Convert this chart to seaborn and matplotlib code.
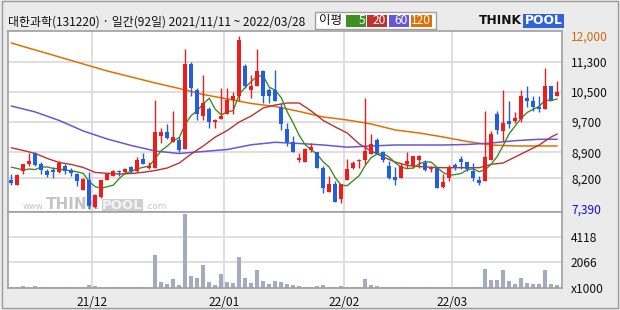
import numpy as np
import pandas as pd
import matplotlib
matplotlib.use("Agg")
import matplotlib.pyplot as plt
import seaborn as sns
from matplotlib.patches import Rectangle

# ---------------- data ----------------
title = "대한과학(131220) · 일간(92일) 2021/11/11 ~ 2022/03/28"

open_ = [8160, 8030, 8400, 8580, 8880, 8580, 8400, 8430, 8360, 8540,
         8420, 8310, 7900, 8150, 7430, 7710, 8150, 8270, 8400, 8380,
         8510, 8400, 8720, 8470, 8490, 9320, 9450, 9180, 9230, 8990,
         11250, 10550, 9870, 10050, 9700, 9780, 9930, 10300, 10400, 11200,
         10550, 10650, 11050, 10550, 10550, 10100, 9520, 9180, 8700, 8650,
         8970, 8910, 8490, 7830, 8040, 7650, 8170, 8470, 8670, 8700,
         8860, 9230, 8900, 8520, 8240, 8220, 8590, 8520, 8700, 8610,
         8450, 8490, 7970, 8220, 8560, 8720, 8630, 8400, 8150, 8130,
         8700, 9910, 9460, 9730, 9730, 9780, 10350, 10250, 10100, 10050,
         10650, 10400]
high = [8310, 8310, 8580, 8880, 8900, 8630, 8450, 8510, 8670, 8590,
        8470, 8350, 8220, 8360, 7790, 8170, 8350, 8420, 8430, 8490,
        8540, 8770, 8880, 8630, 10300, 9550, 9640, 10000, 9300, 11650,
        11300, 10600, 10950, 10100, 9780, 10600, 10600, 10500, 12000, 11250,
        10950, 11650, 11100, 10600, 11100, 10200, 9680, 9320, 8880, 9000,
        9140, 8910, 8540, 8270, 8130, 8060, 8720, 8670, 8720, 10350,
        9380, 9270, 8930, 8670, 8510, 8610, 8900, 8810, 8830, 8680,
        8540, 8510, 8310, 8560, 8610, 8790, 8630, 8610, 8260, 10000,
        9460, 10000, 10550, 10250, 9960, 10550, 10650, 10400, 10400, 11150,
        10650, 10800]
low = [8030, 8030, 8330, 8540, 8540, 8310, 8240, 8220, 8350, 8330,
       8260, 8010, 7900, 7390, 7400, 7690, 8150, 8260, 8260, 8330,
       8350, 8380, 8580, 8450, 8490, 9140, 9250, 9160, 8910, 8990,
       10400, 9750, 9750, 9550, 9550, 9780, 9910, 9910, 10250, 10600,
       10350, 10650, 10200, 10200, 10250, 9500, 9060, 8910, 8650, 8650,
       8910, 8470, 7810, 7830, 7560, 7550, 8170, 8450, 8470, 8590,
       8840, 8840, 8650, 8190, 8030, 8220, 8490, 8470, 8490, 8400,
       8360, 7950, 7950, 8130, 8430, 8450, 8400, 8130, 8030, 8130,
       8680, 9380, 9200, 9550, 9680, 9700, 10100, 10000, 9980, 10050,
       10300, 10400]
close = [8080, 8290, 8580, 8670, 8560, 8430, 8290, 8380, 8610, 8400,
         8350, 8130, 8190, 7470, 7760, 8150, 8330, 8400, 8360, 8450,
         8400, 8680, 8590, 8540, 9450, 9450, 9290, 9300, 8950, 11250,
         10600, 9930, 10200, 9710, 9770, 9870, 10300, 10400, 11900, 10650,
         10650, 11050, 10400, 10400, 10250, 9660, 9160, 8910, 8750, 8990,
         9040, 8490, 7940, 8040, 7570, 8040, 8450, 8610, 8700, 8930,
         9110, 8880, 8700, 8220, 8170, 8540, 8670, 8790, 8790, 8430,
         8490, 7950, 8110, 8470, 8490, 8650, 8450, 8220, 8080, 8770,
         9380, 9480, 9680, 9660, 9800, 10400, 10250, 10100, 10050, 10650,
         10300, 10500]
volume = [110, 100, 130, 120, 140, 100, 90, 100, 110, 100,
          90, 100, 120, 250, 150, 110, 100, 90, 100, 90,
          100, 110, 120, 100, 2670, 490, 320, 730, 240, 5980,
          970, 810, 1860, 490, 240, 1130, 490, 400, 2500, 810,
          400, 1450, 570, 320, 570, 490, 320, 240, 160, 120,
          110, 130, 240, 120, 110, 130, 120, 110, 100, 730,
          240, 130, 110, 100, 100, 90, 100, 110, 100, 90,
          100, 110, 100, 90, 100, 110, 100, 90, 100, 1530,
          650, 650, 1450, 570, 320, 810, 400, 320, 320, 1450,
          320, 240]

# moving averages
ma5_head = [8500, 8465, 8425, 8452]
ma20_idx = list(range(0, 92, 2)) + [91]
ma20 = [9017, 8945, 8865, 8732, 8625, 8572, 8492, 8359, 8337, 8319,
        8332, 8364, 8412, 8478, 8612, 8851, 9065, 9304, 9477, 9704,
        9864, 10077, 10157, 10210, 10210, 9997, 9744, 9571, 9411, 9118,
        8931, 8772, 8638, 8545, 8518, 8497, 8486, 8486, 8486, 8486,
        8577, 8612, 8772, 8931, 9091, 9304, 9384]
ma_long_idx = list(range(0, 92, 4)) + [91]
ma60 = [10130, 9970, 9744, 9464, 9251, 9078, 8931, 8865, 8918, 8971,
        9097, 9163, 9131, 9091, 9033, 9065, 9091, 9091, 9091, 9105,
        9144, 9206, 9243, 9243]
ma120 = [11808, 11622, 11436, 11249, 11063, 10903, 10743, 10596, 10437, 10317,
         10197, 10117, 9984, 9837, 9757, 9651, 9491, 9411, 9304, 9184,
         9091, 9065, 9065, 9065]

month_pos = [13.5, 35.5, 55.5, 73.5]
month_labels = ["21/12", "22/01", "22/02", "22/03"]
price_grid = [11300, 10500, 9700, 8900, 8200]
price_grid_labels = ["11,300", "10,500", "9,700", "8,900", "8,200"]
price_max, price_min = 12000, 7390
vol_ticks = [0, 2066, 4118]
vol_tick_labels = ["x1000", "2066", "4118"]
legend_items = ["5", "20", "60", "120"]

# ---------------- style ----------------
sns.set_style("white")
plt.rcParams['font.family'] = ['Noto Sans CJK KR', 'DejaVu Sans']

C_UP = "#f01c1c"
C_DN = "#1f5fe0"
C_MA = ["#3f8f22", "#c0302c", "#6457d8", "#e07000"]
C_GRID = "#d9d9d9"
C_SPINE = "#a0a0a0"
C_VOL = "#a3abc2"

W, H = 620, 310
fig = plt.figure(figsize=(6.2, 3.1), dpi=100, facecolor="#ebebeb")

def fx(x):
    return x / W

def fy(y):
    return 1 - y / H

ax = fig.add_axes([fx(8), fy(212), (562 - 8) / W, (212 - 31) / H])
axv = fig.add_axes([fx(8), fy(288), (562 - 8) / W, (288 - 212) / H])

n = len(close)
idx = np.arange(n)
xlim = (-0.55, 91.8)

# ---------------- price panel ----------------
ax.set_facecolor("white")
ax.set_xlim(*xlim)
ax.set_ylim(7306, 12128)
for v in price_grid:
    ax.axhline(v, color=C_GRID, lw=1.2, zorder=0.3)
for m in month_pos:
    ax.axvline(m, color=C_GRID, lw=1.2, zorder=0.3)

# watermark
wm_kw = dict(transform=fig.transFigure, color="#c4c4c4", va="baseline", zorder=0.5,
             family="DejaVu Sans")
ax.text(fx(23), fy(209), "www.", fontsize=6, **wm_kw)
ax.text(fx(46), fy(209), "THINK", fontsize=11, fontweight="bold", **wm_kw)
ax.text(fx(102), fy(209), "POOL", fontsize=9.5, fontweight="bold", family="DejaVu Sans",
        transform=fig.transFigure, color="#f4f4f4", va="baseline", zorder=0.5,
        bbox=dict(boxstyle="square,pad=0.03", fc="#cfcfcf", ec="none"))
ax.text(fx(145), fy(209), ".com", fontsize=6.3, **wm_kw)

# moving averages
ma5 = pd.Series(close, dtype=float).rolling(5).mean().to_numpy()
ma5[:4] = ma5_head
sns.lineplot(x=ma_long_idx, y=ma120, ax=ax, color=C_MA[3], lw=1.1, zorder=2, legend=False)
sns.lineplot(x=ma_long_idx, y=ma60, ax=ax, color=C_MA[2], lw=1.1, zorder=2, legend=False)
sns.lineplot(x=ma20_idx, y=ma20, ax=ax, color=C_MA[1], lw=1.0, zorder=2, legend=False)
sns.lineplot(x=idx, y=ma5, ax=ax, color=C_MA[0], lw=1.0, zorder=2, legend=False)

# candles
o = np.array(open_, float)
c = np.array(close, float)
hi = np.array(high, float)
lo = np.array(low, float)
cols = np.where(c >= o, C_UP, C_DN)
ax.vlines(idx, lo, hi, colors=cols, lw=1.0, zorder=3)
body = np.maximum(np.abs(c - o), 28)
ax.bar(idx, body, bottom=np.minimum(o, c), width=0.68, color=cols, lw=0, zorder=4)

ax.yaxis.tick_right()
yt = [price_max] + price_grid + [price_min]
ax.set_yticks(yt)
ax.set_yticklabels([f"{price_max:,}"] + price_grid_labels + [f"{price_min:,}"])
ax.tick_params(axis="y", length=0, pad=6.5, labelsize=8.6, labelcolor="#111111")
tl = ax.get_yticklabels()
tl[0].set_color("#d06a10")
tl[-1].set_color("#1010d0")
ax.set_xticks([])
for s in ax.spines.values():
    s.set_color(C_SPINE)
    s.set_linewidth(1.2)

# ---------------- volume panel ----------------
axv.set_facecolor("white")
axv.set_xlim(*xlim)
axv.set_ylim(0, 6140)
for v in vol_ticks[1:]:
    axv.axhline(v, color=C_GRID, lw=1.2, zorder=0.3)
for m in month_pos:
    axv.axvline(m, color=C_GRID, lw=1.2, zorder=0.3)
axv.bar(idx, volume, width=0.68, color=C_VOL, lw=0, zorder=2)
axv.yaxis.tick_right()
axv.set_yticks(vol_ticks)
axv.set_yticklabels(vol_tick_labels)
axv.tick_params(axis="y", length=0, pad=6.5, labelsize=8.6, labelcolor="#111111")
axv.set_xticks(month_pos)
axv.set_xticklabels(month_labels)
axv.tick_params(axis="x", length=0, pad=6, labelsize=8.6, labelcolor="#111111")
for s in axv.spines.values():
    s.set_color(C_SPINE)
    s.set_linewidth(1.2)

# ---------------- header ----------------
fig.text(fx(8), fy(22), title, fontsize=8.6, color="#111111", va="center", ha="left")

# legend box
fig.patches.append(Rectangle((fx(315), fy(29)), 121 / W, 17 / H, transform=fig.transFigure,
                             fc="white", ec="#a0a0a0", lw=1.0))
fig.text(fx(319), fy(20.5), "이평", fontsize=9, color="#111111", va="center", ha="left")
box_x = [346, 367, 389, 411]
box_w = [20, 20, 20, 21]
for lab, bx, bw, col in zip(legend_items, box_x, box_w, C_MA):
    fig.patches.append(Rectangle((fx(bx), fy(27)), bw / W, 12 / H, transform=fig.transFigure,
                                 fc=col, ec="none"))
    fig.text(fx(bx + bw - 1), fy(21), lab, fontsize=8.6, color="white", va="center", ha="right")

# logo
fig.text(fx(522), fy(21), "THINK", fontsize=8.8, fontweight="bold", family="DejaVu Sans",
         color="#111111", va="center", ha="right")
fig.patches.append(Rectangle((fx(523), fy(28)), 41 / W, 14 / H, transform=fig.transFigure,
                             fc="#2f63d6", ec="none"))
fig.text(fx(543.5), fy(21), "POOL", fontsize=8.8, fontweight="bold", family="DejaVu Sans",
         color="white", va="center", ha="center")

# outer frame
fig.patches.append(Rectangle((fx(2), fy(308)), 616 / W, 307 / H, transform=fig.transFigure,
                             fc="none", ec="#9a9a9a", lw=1.0))

fig.savefig("out.png", dpi=100, facecolor=fig.get_facecolor())
